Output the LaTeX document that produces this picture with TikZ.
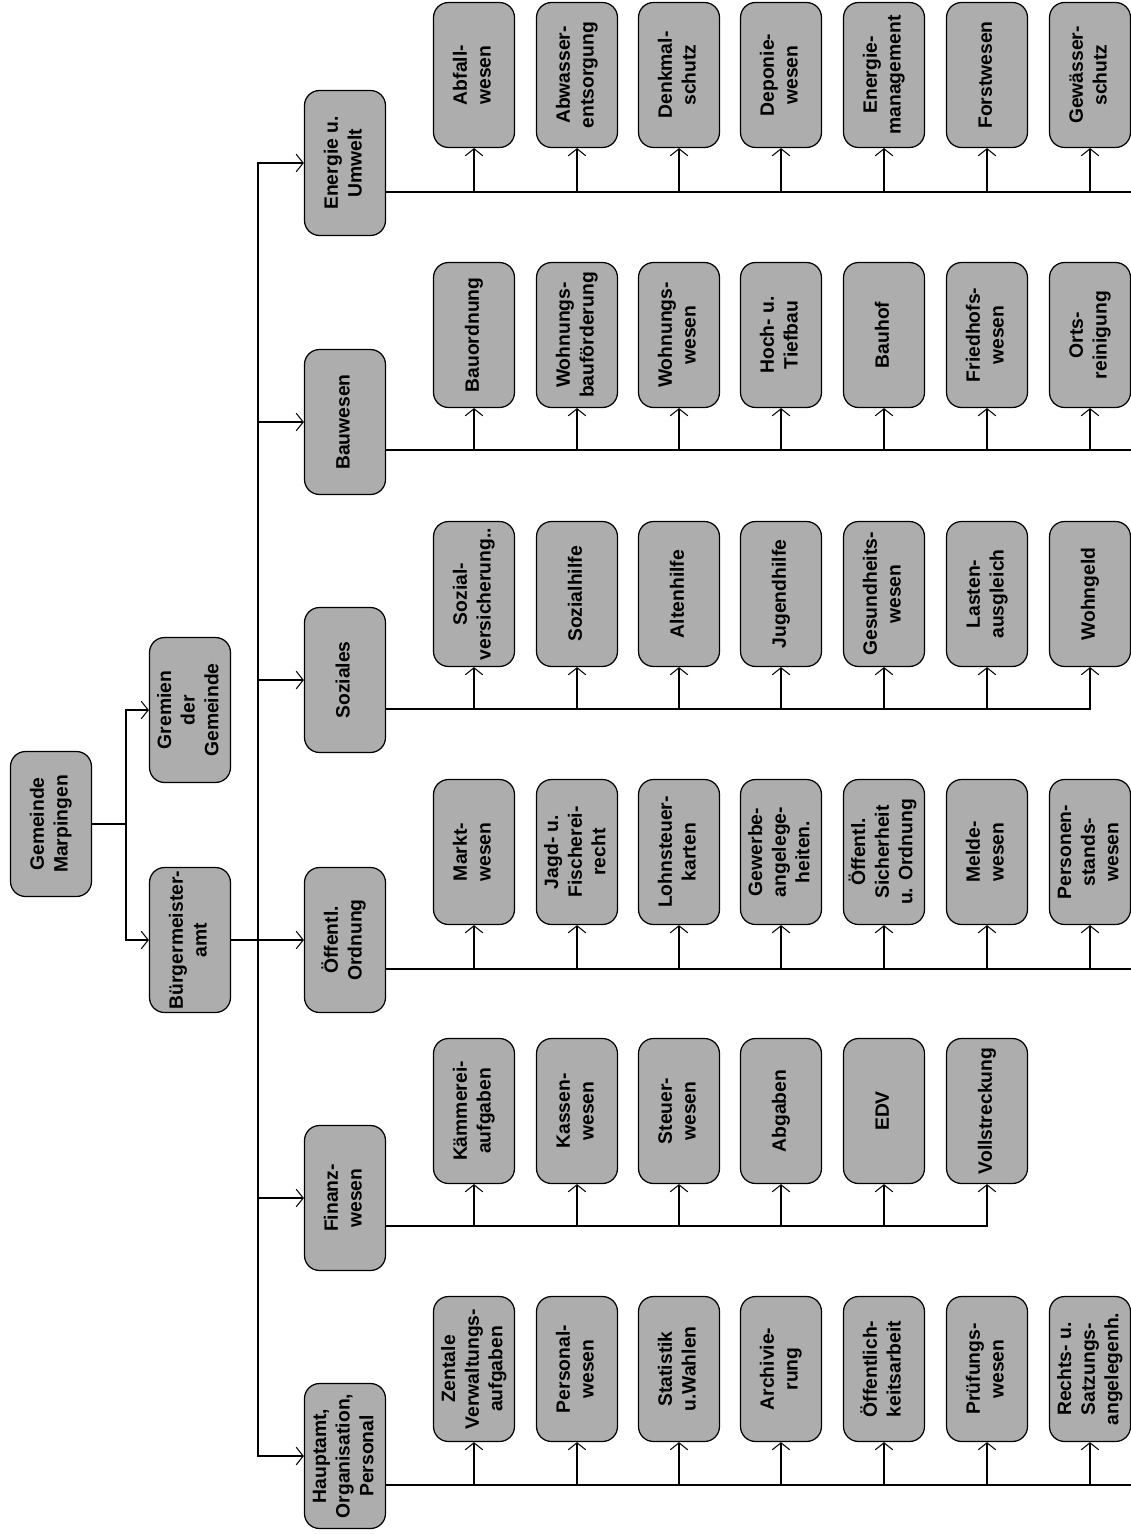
\documentclass[tikz,border=0pt]{standalone}
\usepackage{fontspec}
\setmainfont{Liberation Sans}
\usetikzlibrary{arrows.meta}
\definecolor{boxgray}{gray}{0.68}
\newcommand{\rt}[1]{\rotatebox{90}{\begin{tabular}{@{}c@{}}#1\end{tabular}}}
\begin{document}
\begin{tikzpicture}[x=0.02cm,y=-0.02cm,
  box/.style={draw,line width=0.7pt,fill=boxgray,rounded corners=0.3cm,
    minimum width=1.62cm,minimum height=2.9cm,inner sep=1pt,
    font=\bfseries\fontsize{11}{13.5}\selectfont},
  arr/.style={line width=0.6pt,-{Straight Barb[length=4pt,width=10pt]}},
  bus/.style={line width=0.6pt}]
\useasboundingbox (0,0) rectangle (1131,1534);
\coordinate (edge) at (1131,0);
\node[box] (gem) at (51,824) {\rt{Gemeinde\\Marpingen}};
\node[box] (grem) at (190,710) {\rt{Gremien\\der\\Gemeinde}};
\node[box] (buerg) at (190,940) {\rt{Bürgermeister-\\amt}};
\node[box] (ener) at (345,163) {\rt{Energie u.\\Umwelt}};
\node[box] (bau) at (345,422) {\rt{Bauwesen}};
\node[box] (soz) at (345,680) {\rt{Soziales}};
\node[box] (oeff) at (345,940) {\rt{Öffentl.\\Ordnung}};
\node[box] (fin) at (345,1198) {\rt{Finanz-\\wesen}};
\node[box] (haupt) at (345,1456) {\rt{Hauptamt,\\Organisation,\\Personal}};
\node[box] (e1) at (474,75) {\rt{Abfall-\\wesen}};
\node[box] (e2) at (577,75) {\rt{Abwasser-\\entsorgung}};
\node[box] (e3) at (679,75) {\rt{Denkmal-\\schutz}};
\node[box] (e4) at (781,75) {\rt{Deponie-\\wesen}};
\node[box] (e5) at (884,75) {\rt{Energie-\\management}};
\node[box] (e6) at (987,75) {\rt{Forstwesen}};
\node[box] (e7) at (1090,75) {\rt{Gewässer-\\schutz}};
\node[box] (b1) at (474,335) {\rt{Bauordnung}};
\node[box] (b2) at (577,335) {\rt{Wohnungs-\\bauförderung}};
\node[box] (b3) at (679,335) {\rt{Wohnungs-\\wesen}};
\node[box] (b4) at (781,335) {\rt{Hoch- u.\\Tiefbau}};
\node[box] (b5) at (884,335) {\rt{Bauhof}};
\node[box] (b6) at (987,335) {\rt{Friedhofs-\\wesen}};
\node[box] (b7) at (1090,335) {\rt{Orts-\\reinigung}};
\node[box] (s1) at (474,594) {\rt{Sozial-\\versicherung..}};
\node[box] (s2) at (577,594) {\rt{Sozialhilfe}};
\node[box] (s3) at (679,594) {\rt{Altenhilfe}};
\node[box] (s4) at (781,594) {\rt{Jugendhilfe}};
\node[box] (s5) at (884,594) {\rt{Gesundheits-\\wesen}};
\node[box] (s6) at (987,594) {\rt{Lasten-\\ausgleich}};
\node[box] (s7) at (1090,594) {\rt{Wohngeld}};
\node[box] (o1) at (474,852) {\rt{Markt-\\wesen}};
\node[box] (o2) at (577,852) {\rt{Jagd- u.\\Fischerei-\\recht}};
\node[box] (o3) at (679,852) {\rt{Lohnsteuer-\\karten}};
\node[box] (o4) at (781,852) {\rt{Gewerbe-\\angelege-\\heiten.}};
\node[box] (o5) at (884,852) {\rt{Öffentl.\\Sicherheit\\u. Ordnung}};
\node[box] (o6) at (987,852) {\rt{Melde-\\wesen}};
\node[box] (o7) at (1090,852) {\rt{Personen-\\stands-\\wesen}};
\node[box] (f1) at (474,1111) {\rt{Kämmerei-\\aufgaben}};
\node[box] (f2) at (577,1111) {\rt{Kassen-\\wesen}};
\node[box] (f3) at (679,1111) {\rt{Steuer-\\wesen}};
\node[box] (f4) at (781,1111) {\rt{Abgaben}};
\node[box] (f5) at (884,1111) {\rt{EDV}};
\node[box] (f6) at (987,1111) {\rt{Vollstreckung}};
\node[box] (h1) at (474,1369) {\rt{Zentale\\Verwaltungs-\\aufgaben}};
\node[box] (h2) at (577,1369) {\rt{Personal-\\wesen}};
\node[box] (h3) at (679,1369) {\rt{Statistik\\u.Wahlen}};
\node[box] (h4) at (781,1369) {\rt{Archivie-\\rung}};
\node[box] (h5) at (884,1369) {\rt{Öffentlich-\\keitsarbeit}};
\node[box] (h6) at (987,1369) {\rt{Prüfungs-\\wesen}};
\node[box] (h7) at (1090,1369) {\rt{Rechts- u.\\Satzungs-\\angelegenh.}};
\coordinate (split1) at (126,824);
\coordinate (split2) at (258,940);
\draw[bus] (gem.east) -- (split1);
\draw[arr] (split1) |- (grem.west);
\draw[arr] (split1) |- (buerg.west);
\draw[bus] (buerg.east) -- (split2);
\foreach \n in {ener,bau,soz,oeff,fin,haupt}
  \draw[arr] (split2) |- (\n.west);
\coordinate (ebus) at ([yshift=-0.58cm]ener.east);
\coordinate (bbus) at ([yshift=-0.56cm]bau.east);
\coordinate (sbus) at ([yshift=-0.58cm]soz.east);
\coordinate (obus) at ([yshift=-0.58cm]oeff.east);
\coordinate (fbus) at ([yshift=-0.56cm]fin.east);
\coordinate (hbus) at ([yshift=-0.58cm]haupt.east);
\draw[bus] (ebus) -- (ebus -| edge);
\draw[bus] (bbus) -- (bbus -| edge);
\draw[bus] (obus) -- (obus -| edge);
\draw[bus] (hbus) -- (hbus -| edge);
\draw[arr] (sbus) -| (s7.south);
\draw[arr] (fbus) -| (f6.south);
\foreach \i in {1,...,7} {
  \draw[arr] (ebus -| e\i.south) -- (e\i.south);
  \draw[arr] (bbus -| b\i.south) -- (b\i.south);
  \draw[arr] (obus -| o\i.south) -- (o\i.south);
  \draw[arr] (hbus -| h\i.south) -- (h\i.south);
}
\foreach \i in {1,...,6}
  \draw[arr] (sbus -| s\i.south) -- (s\i.south);
\foreach \i in {1,...,5}
  \draw[arr] (fbus -| f\i.south) -- (f\i.south);
\end{tikzpicture}
\end{document}
